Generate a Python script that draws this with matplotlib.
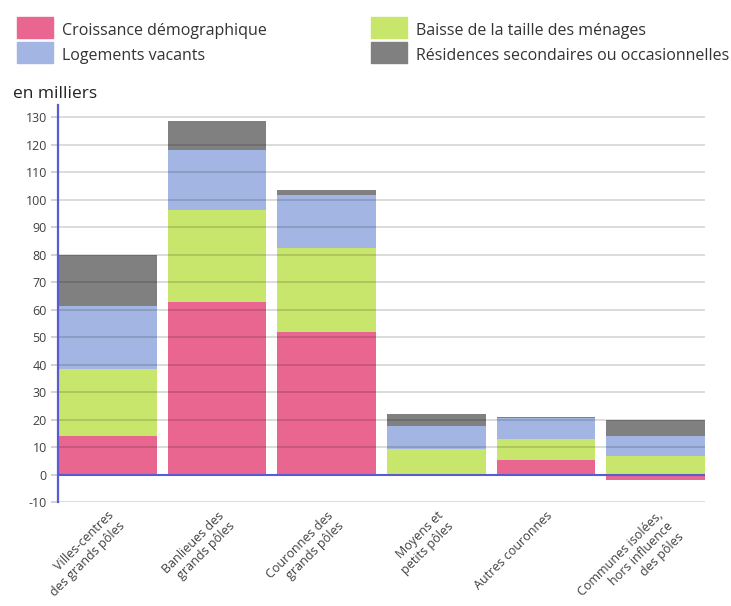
import matplotlib
matplotlib.use("Agg")
import matplotlib.pyplot as plt
from matplotlib.patches import Rectangle
from matplotlib.transforms import ScaledTranslation
import numpy as np

plt.rcParams['font.family'] = ['Open Sans', 'DejaVu Sans']

categories = [
    "Villes-centres\ndes grands pôles",
    "Banlieues des\ngrands pôles",
    "Couronnes des\ngrands pôles",
    "Moyens et\npetits pôles",
    "Autres couronnes",
    "Communes isolées,\nhors influence\ndes pôles",
]
croissance = [14.0, 62.7, 52.0, 0.3, 5.2, -1.9]
baisse_menages = [24.5, 33.7, 30.3, 9.0, 7.8, 6.8]
vacants = [23.0, 21.9, 19.4, 8.3, 7.7, 7.4]
secondaires = [18.5, 10.4, 2.0, 4.4, 0.3, 5.5]

series_names = [
    "Croissance démographique",
    "Baisse de la taille des ménages",
    "Logements vacants",
    "Résidences secondaires ou occasionnelles",
]
colors = ["#e8668f", "#c9e66c", "#a3b5e3", "#808080"]
y_ticks = list(range(-10, 131, 10))

fig = plt.figure(figsize=(7.31, 6.06), dpi=100)
ax = fig.add_axes([58 / 731, 1 - 502 / 606, (705 - 58) / 731, (502 - 105) / 606])

x = np.arange(len(categories))
width = 0.9
series = [croissance, baisse_menages, vacants, secondaires]
pos_base = np.zeros(len(categories))
neg_base = np.zeros(len(categories))
for vals, col in zip(series, colors):
    vals = np.array(vals)
    bottoms = np.where(vals >= 0, pos_base, neg_base)
    ax.bar(x, vals, width=width, bottom=bottoms, color=col, zorder=2, linewidth=0)
    pos_base = pos_base + np.where(vals >= 0, vals, 0)
    neg_base = neg_base + np.where(vals < 0, vals, 0)

ax.set_xlim(-0.45, len(categories) - 1 + 0.45)
ax.set_ylim(-10, 134.5)

# horizontal grid, faintly visible through the bars
for v in y_ticks:
    if v == 0:
        continue
    ax.axhline(v, color=(0, 0, 0, 0.14), lw=1.4, zorder=3)
ax.axhline(0, color="#5a5ad2", lw=1.5, zorder=4)

for s in ["top", "right", "bottom"]:
    ax.spines[s].set_visible(False)
ax.spines["left"].set_color("#5a5ad2")
ax.spines["left"].set_linewidth(1.6)
ax.spines["left"].set_zorder(5)

ax.set_yticks(y_ticks)
ax.set_yticklabels([str(v) for v in y_ticks], fontsize=9, color="#404040")
ax.tick_params(axis="y", length=5, width=1.2, color="#cccccc", pad=3)

# rotated category labels, one text per line, right-aligned at 45 degrees
ax.set_xticks(x)
ax.set_xticklabels([])
ax.tick_params(axis="x", length=0)
pad_pt = 5.0
line_pt = 11.0
c45 = np.cos(np.radians(45))
for xi, label in zip(x, categories):
    for j, line in enumerate(label.split("\n")):
        dx = j * line_pt * c45 / 72
        dy = -(pad_pt + j * line_pt * c45) / 72
        tr = ax.get_xaxis_transform() + ScaledTranslation(dx, dy, fig.dpi_scale_trans)
        ax.text(xi, 0, line, transform=tr, rotation=45, rotation_mode="anchor",
                ha="right", va="top", fontsize=9.0, color="#404040", clip_on=False)

fig.text(13 / 731, 1 - 94 / 606, "en milliers", fontsize=12.5, color="#222222",
         ha="left", va="center")

# legend, two columns
legend_layout = [
    (17, 17, 0), (371, 17, 1),
    (17, 42, 2), (371, 42, 3),
]
for px, py, idx in legend_layout:
    fig.patches.append(Rectangle((px / 731, 1 - (py + 21) / 606), 36 / 731, 21 / 606,
                                 transform=fig.transFigure, color=colors[idx]))
    fig.text((px + 45) / 731, 1 - (py + 14) / 606, series_names[idx], fontsize=11.5,
             color="#333333", ha="left", va="center")

fig.savefig("out.png", dpi=100)
